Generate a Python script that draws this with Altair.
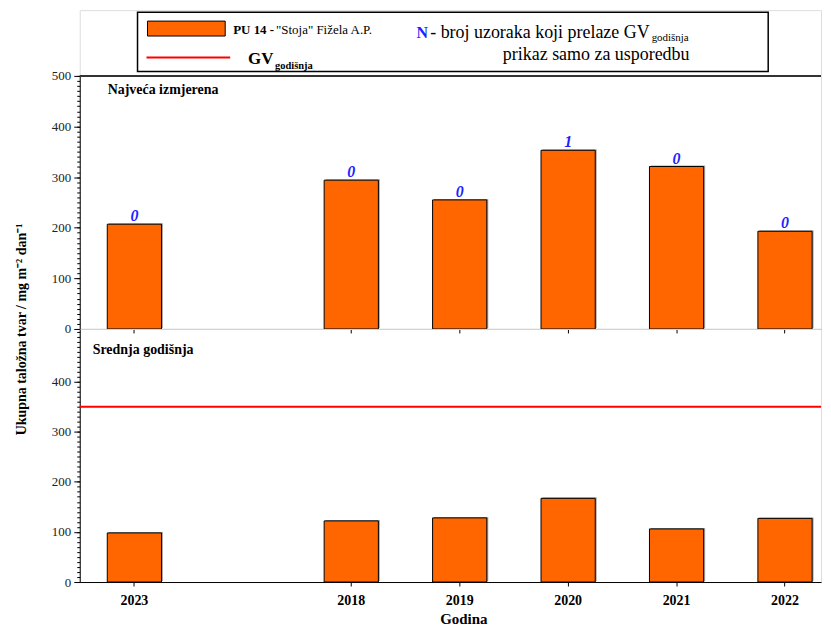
import altair as alt
import pandas as pd

# ---- data ----
years = ["2023", "2018", "2019", "2020", "2021", "2022"]
max_vals = [207, 294, 255, 353, 321, 193]      # Najveća izmjerena
mean_vals = [98, 122, 128, 167, 106, 127]      # Srednja godišnja
exceed_n = [0, 0, 0, 1, 0, 0]                  # N above bars
gv_annual = [350]
spacer = " "
x_domain = [years[0], spacer] + years[1:]
major_top = [0, 100, 200, 300, 400, 500]
major_bottom = [0, 100, 200, 300, 400]
minor_ticks = list(range(0, 501, 10))

df = pd.DataFrame({"year": years, "max": max_vals, "mean": mean_vals, "n": exceed_n})
gv_df = pd.DataFrame({"gv": gv_annual})

FONT = "Liberation Serif"
ORANGE = "#FF6600"
BLUE = "#1f1fff"
W = 744
H = 254

x_scale = alt.Scale(domain=x_domain, paddingInner=0.5, paddingOuter=0.168, align=0.756)
y_top_scale = alt.Scale(domain=[0, 500], nice=False)
y_bot_scale = alt.Scale(domain=[0, 505], nice=False)

AX_FONT = dict(labelFont=FONT, labelFontSize=13, labelColor="#222222",
               tickColor="black", domainColor="black")


def main_axis(values, title=None):
    kw = dict(values=values, tickSize=6, grid=False, labelPadding=3, orient="left", **AX_FONT)
    if title:
        kw.update(title=title, titleFont=FONT, titleFontSize=14, titleFontWeight="bold",
                  titleColor="black", titleAngle=-90, titleAlign="center",
                  titleBaseline="middle", titleX=-58, titleY=H)
    else:
        kw.update(title=None)
    return alt.Axis(**kw)


minor_axis = alt.Axis(values=minor_ticks, labels=False, domain=False, tickSize=3,
                      grid=False, title=None, orient="left", tickColor="black")

top_x_axis = alt.Axis(labels=False, title=None, tickSize=4, values=years,
                      tickColor="black", domainColor="black")
bottom_x_axis = alt.Axis(
    title="Godina", values=years, labelAngle=0, tickSize=4,
    labelFont=FONT, labelFontSize=14, labelFontWeight="bold", labelColor="black",
    labelPadding=8, tickColor="black", domainColor="black",
    titleFont=FONT, titleFontSize=15, titleFontWeight="bold", titleColor="black",
    titlePadding=4, titleX=385,
)

base = alt.Chart(df)
X = alt.X("year:N", scale=x_scale, sort=x_domain)

top_shadow = base.mark_bar(color="#a8a8a8", xOffset=1.5, yOffset=-1).encode(
    x=alt.X("year:N", scale=x_scale, sort=x_domain, axis=top_x_axis),
    y=alt.Y("max:Q", scale=y_top_scale, axis=None),
)
top_bars = base.mark_bar(color=ORANGE, stroke="black", strokeWidth=1).encode(
    x=alt.X("year:N", scale=x_scale, sort=x_domain, axis=top_x_axis),
    y=alt.Y("max:Q", scale=y_top_scale,
            axis=main_axis(major_top, "Ukupna taložna tvar / mg m⁻² dan⁻¹")),
)
top_minor = base.mark_point(opacity=0).encode(
    x=X, y=alt.Y("max:Q", scale=y_top_scale, axis=minor_axis))
top_text = base.mark_text(font=FONT, fontSize=16, fontWeight="bold", fontStyle="italic",
                          color=BLUE, baseline="alphabetic", dy=-3).encode(
    x=X, y=alt.Y("max:Q", scale=y_top_scale, axis=None), text="n:Q")
top_label = alt.Chart(alt.Data(values=[{"t": "Najveća izmjerena"}])).mark_text(
    font=FONT, fontSize=14, fontWeight="bold", align="left", baseline="alphabetic",
    color="black").encode(x=alt.value(28), y=alt.value(18), text="t:N")
top_border = alt.Chart(alt.Data(values=[{"k": 1}])).mark_rule(
    color="#333333", strokeWidth=2).encode(x=alt.value(0), x2=alt.value(W), y=alt.value(0))

top = alt.layer(top_shadow, top_bars, top_minor, top_text, top_label, top_border).resolve_axis(
    y="independent").properties(width=W, height=H)

bot_shadow = base.mark_bar(color="#a8a8a8", xOffset=1.5, yOffset=-1).encode(
    x=alt.X("year:N", scale=x_scale, sort=x_domain, axis=bottom_x_axis),
    y=alt.Y("mean:Q", scale=y_bot_scale, axis=None),
)
bot_bars = base.mark_bar(color=ORANGE, stroke="black", strokeWidth=1).encode(
    x=alt.X("year:N", scale=x_scale, sort=x_domain, axis=bottom_x_axis),
    y=alt.Y("mean:Q", scale=y_bot_scale, axis=main_axis(major_bottom)),
)
bot_minor = base.mark_point(opacity=0).encode(
    x=X, y=alt.Y("mean:Q", scale=y_bot_scale, axis=minor_axis))
gv_rule = alt.Chart(gv_df).mark_rule(color="#ff0000", strokeWidth=2).encode(
    y=alt.Y("gv:Q", scale=y_bot_scale, axis=None))
bot_label = alt.Chart(alt.Data(values=[{"t": "Srednja godišnja"}])).mark_text(
    font=FONT, fontSize=14, fontWeight="bold", align="left", baseline="alphabetic",
    color="black").encode(x=alt.value(13), y=alt.value(25), text="t:N")

bottom = alt.layer(bot_shadow, bot_bars, bot_minor, gv_rule, bot_label).resolve_axis(
    y="independent").properties(width=W, height=H)

# ---- legend box drawn above the plot ----
one = alt.Data(values=[{"k": 1}])
L = alt.Chart(one)
leg_box = L.mark_rect(fill="white", stroke="black", strokeWidth=1.5).encode(
    x=alt.value(58), x2=alt.value(691), y=alt.value(2), y2=alt.value(61.5))
leg_swatch = L.mark_rect(fill=ORANGE, stroke="black", strokeWidth=1).encode(
    x=alt.value(68), x2=alt.value(146), y=alt.value(11), y2=alt.value(26))
leg_line = L.mark_rule(color="#ff0000", strokeWidth=2).encode(
    x=alt.value(67), x2=alt.value(151), y=alt.value(47.5))


def ltext(s, x, y, size, weight="normal", color="black", align="left"):
    return L.mark_text(text=s, font=FONT, fontSize=size, fontWeight=weight, color=color,
                       align=align, baseline="alphabetic").encode(x=alt.value(x), y=alt.value(y))


legend_layers = [
    leg_box, leg_swatch, leg_line,
    ltext("PU 14 -", 154, 23.5, 13, "bold"),
    ltext("\"Stoja\" Fižela A.P.", 197, 23.5, 13),
    ltext("GV", 169, 54, 17, "bold"),
    ltext("godišnja", 196, 59, 10.5, "bold"),
    ltext("N", 338, 27.5, 16, "bold", BLUE),
    ltext("- broj uzoraka koji prelaze GV", 572, 27.5, 18, align="right"),
    ltext("godišnja", 574, 31, 11),
    ltext("prikaz samo za usporedbu", 612, 50, 18, align="right"),
]
legend = alt.layer(*legend_layers).properties(width=W, height=66)

chart = alt.vconcat(legend, top, bottom, spacing=0).properties(
    bounds="flush",
    padding={"left": 6, "top": 0, "right": 0, "bottom": 0},
).configure_view(stroke=None).configure_axis(
    labelFont=FONT, titleFont=FONT, tickWidth=1, domainWidth=1.2,
).configure(background="white")

chart.save("out.html", embed_options={"renderer": "svg", "actions": False})
